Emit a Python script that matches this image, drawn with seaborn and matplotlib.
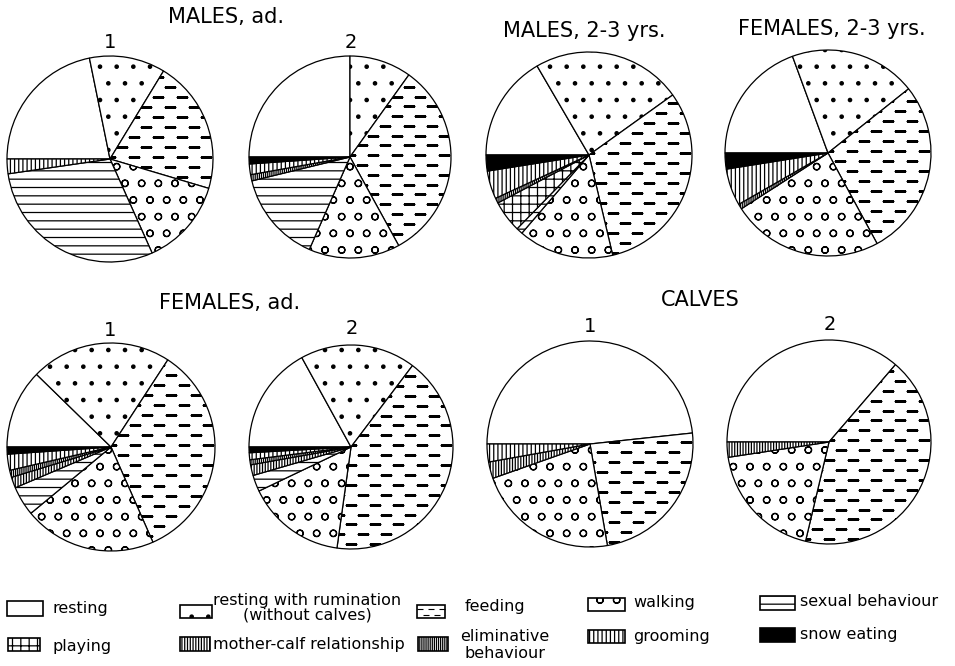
import numpy as np
import matplotlib
matplotlib.use("Agg")
import matplotlib.pyplot as plt
from matplotlib.patches import Rectangle
import seaborn as sns

sns.set_theme(style="white")
plt.rcParams["font.family"] = ["DejaVu Sans"]
plt.rcParams["text.color"] = "black"
plt.rcParams["hatch.linewidth"] = 0.9
plt.rcParams["hatch.color"] = "black"

W, H = 955, 666

# behaviour categories, in the clockwise order used by every pie
categories = ["resting", "resting with rumination\n(without calves)", "feeding",
              "walking", "sexual behaviour", "playing", "mother-calf relationship",
              "eliminative\nbehaviour", "grooming", "snow eating"]

# share of time (%) per category
males_ad_1 = [21.8, 11.9, 20.9, 13.7, 29.4, 0, 0, 0, 2.3, 0]
males_ad_2 = [25.0, 9.9, 32.1, 14.6, 14.6, 0, 0, 1.0, 1.7, 1.1]
males_23 = [16.6, 23.5, 31.2, 15.0, 1.0, 5.0, 0, 0.8, 4.4, 2.5]
females_23 = [19.4, 19.9, 27.8, 23.8, 0, 0, 0, 0.8, 5.8, 2.5]
females_ad_1 = [12.3, 21.9, 34.2, 20.6, 4.6, 0, 1.7, 1.1, 2.5, 1.1]
females_ad_2 = [17.0, 18.3, 41.9, 15.7, 2.6, 0, 1.7, 0.8, 1.1, 0.9]
calves_1 = [48.3, 0, 24.0, 22.3, 0, 0, 2.6, 0, 2.8, 0]
calves_2 = [36.3, 0, 42.4, 18.9, 0, 0, 2.4, 0, 0, 0]

# black & white fills (feeding gets a dash texture drawn separately)
hatches = [None, ".", None, "o", "--", "++", "||||||", "||||||||", "||||", None]
faces = ["white"] * 9 + ["black"]
FEEDING = 2

fig = plt.figure(figsize=(W / 100, H / 100), dpi=100)
fig.patch.set_facecolor("white")


def add_dashes(ax, clip, xr, yr, dx, dy, size, lw=0.8):
    # staggered rows of short dashes, clipped to a patch
    xs, ys = [], []
    for i, y in enumerate(np.arange(yr[0], yr[1], dy)):
        row = np.arange(xr[0] + (dx / 2) * (i % 2), xr[1], dx)
        xs.extend(row)
        ys.extend([y] * len(row))
    sc = ax.scatter(xs, ys, marker="_", s=size, c="black", linewidths=lw)
    sc.set_clip_path(clip)


def draw_pie(values, center, r):
    cx, cy = center
    pad = 3
    ax = fig.add_axes([(cx - r - pad) / W, 1 - (cy + r + pad) / H,
                       2 * (r + pad) / W, 2 * (r + pad) / H])
    idx = [i for i, v in enumerate(values) if v > 0]
    wedges, _ = ax.pie([values[i] for i in idx], startangle=180, counterclock=False,
                       colors=[faces[i] for i in idx],
                       wedgeprops=dict(edgecolor="black", linewidth=0.9))
    for w, i in zip(wedges, idx):
        if hatches[i]:
            w.set_hatch(hatches[i])
    if FEEDING in idx:
        add_dashes(ax, wedges[idx.index(FEEDING)], (-1.05, 1.1), (-1.05, 1.05),
                   0.233, 0.097, 64)
    lim = 1 + pad / r
    ax.set_xlim(-lim, lim)
    ax.set_ylim(-lim, lim)
    ax.set_aspect("equal")
    ax.axis("off")


# pie layout: values, centre (px), radius (px)
pies = [
    (males_ad_1, (110, 159), 103),
    (males_ad_2, (350, 157), 101),
    (males_23, (589, 155), 103),
    (females_23, (828, 153), 103),
    (females_ad_1, (111, 447), 104),
    (females_ad_2, (351, 447), 102),
    (calves_1, (590, 444), 103),
    (calves_2, (829, 442), 102),
]
for vals, c, r in pies:
    draw_pie(vals, c, r)

# headings
def ftext(x, y, s, size, **kw):
    fig.text(x / W, 1 - y / H, s, fontsize=size, ha="center", va="center",
             color="black", **kw)

ftext(226, 17, "MALES, ad.", 15)
ftext(584, 31, "MALES, 2-3 yrs.", 15)
ftext(832, 29, "FEMALES, 2-3 yrs.", 15)
ftext(230, 303, "FEMALES, ad.", 15)
ftext(700, 300, "CALVES", 15)
for x, y, s in [(110, 42, "1"), (351, 42, "2"), (110, 330, "1"), (352, 328, "2"),
                (590, 326, "1"), (830, 324, "2")]:
    ftext(x, y, s, 14)

# legend in pixel coordinates
leg = fig.add_axes([0, 0, 1, 1], zorder=-1)
leg.set_xlim(0, W)
leg.set_ylim(H, 0)
leg.axis("off")

# box x, y, w, h and text x, y for each category
leg_boxes = [
    (7, 601, 36, 15, 52, 609),
    (180, 605, 32, 13, 213, 608),
    (417, 605, 28, 13, 465, 606),
    (588, 598, 37, 13, 633, 603),
    (760, 596, 35, 14, 800, 601),
    (8, 638, 32, 13, 52, 646),
    (180, 637, 30, 14, 213, 645),
    (418, 637, 30, 14, 460, 645),
    (588, 630, 37, 13, 633, 636),
    (760, 628, 35, 14, 800, 635),
]
for i, (bx, by, bw, bh, tx, ty) in enumerate(leg_boxes):
    rect = Rectangle((bx, by), bw, bh, facecolor=faces[i], edgecolor="black",
                     linewidth=1.2, hatch=hatches[i])
    leg.add_patch(rect)
    if i == FEEDING:
        add_dashes(leg, rect, (bx + 3, bx + bw), (by + 3.5, by + bh), 11, 6, 20, 0.8)
    leg.text(tx, ty, categories[i], fontsize=11.5, ha="left", va="center",
             color="black", multialignment="center",
             linespacing=0.95 if i == 1 else 1.1)

fig.savefig("out.png", dpi=100, facecolor="white")
